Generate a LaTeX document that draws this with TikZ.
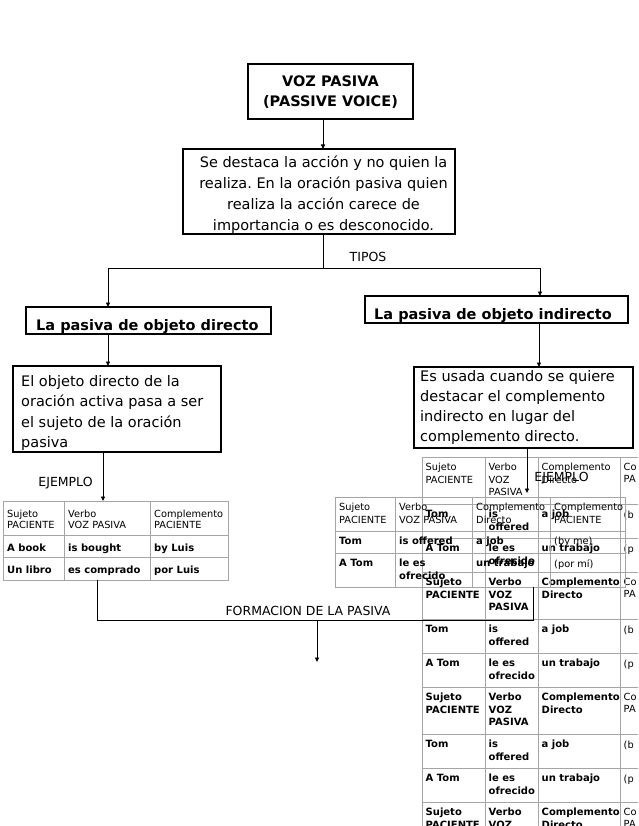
\documentclass[tikz,border=0pt]{standalone}
\usepackage{fontspec}
\setmainfont{DejaVu Sans}
\usetikzlibrary{arrows.meta}
\frenchspacing
\definecolor{tgray}{RGB}{165,165,165}
\newcounter{tcn}
\newcommand\tc[4]{\stepcounter{tcn}\node[#1,anchor=north west] (t\arabic{tcn}) at (#2,#3) {#4};}
\newcommand\mkbox[6]{\node[#2,minimum width={(#5)-(#3)},minimum height={(#6)-(#4)}] (#1) at ({((#3)+(#5))/2},{((#4)+(#6))/2}) {};}
\newcommand\Rblock[2]{%
 \tc{#2}{425.5}{#1+6}{Sujeto\\PACIENTE}
 \tc{#2}{488.5}{#1+6}{Verbo\\VOZ\\PASIVA}
 \tc{#2}{541.5}{#1+6}{Complemento\\Directo}
 \tc{rh}{623.5}{#1+6}{Co\\PA}
 \tc{rb}{425.5}{#1+53}{Tom}
 \tc{rb}{488.5}{#1+53}{is\\offered}
 \tc{rb}{541.5}{#1+53}{a job}
 \tc{rh}{623.5}{#1+54}{(b}
 \tc{rb}{425.5}{#1+87}{A Tom}
 \tc{rb}{488.5}{#1+87}{le es\\ofrecido}
 \tc{rb}{541.5}{#1+87}{un trabajo}
 \tc{rh}{623.5}{#1+88}{(p}
}
\tikzset{
 boxst/.style={draw=black, line width=1.2pt, inner sep=0, outer sep=0},
 tabst/.style={draw=tgray, line width=1pt, inner sep=0, outer sep=0},
 gridln/.style={draw=tgray, line width=0.8pt},
 con/.style={draw=black, line width=0.9pt},
 arr/.style={con, -{Triangle[length=4.5pt,width=4pt]}},
 txtbody/.style={font=\fontsize{14.5}{21}\selectfont, inner sep=0},
 txttitle/.style={font=\bfseries\fontsize{14.5}{20}\selectfont, inner sep=0},
 txtlbl/.style={font=\bfseries\fontsize{14.5}{18}\selectfont, inner sep=0},
 txtsmall/.style={font=\fontsize{12.5}{15}\selectfont, inner sep=0},
 lh/.style={font=\fontsize{9.8}{11.5}\selectfont, align=left, inner sep=0},
 lb/.style={font=\bfseries\fontsize{10}{11.5}\selectfont, align=left, inner sep=0},
 mh/.style={font=\fontsize{9.8}{13}\selectfont, align=left, inner sep=0},
 mb/.style={font=\bfseries\fontsize{10}{13}\selectfont, align=left, inner sep=0},
 rh/.style={font=\fontsize{9.8}{12.5}\selectfont, align=left, inner sep=0},
 rb/.style={font=\bfseries\fontsize{10}{12.5}\selectfont, align=left, inner sep=0},
}
\begin{document}
\begin{tikzpicture}[x=1pt,y=-1pt]
\useasboundingbox (0,0) rectangle (638,826);
% ---- boxes (multi-line texts: base = baseline of the last line)
\mkbox{title}{boxst}{248}{64}{413}{119}
\node[txttitle, align=center, anchor=base] (titletxt) at (330.5,107) {VOZ PASIVA\\(PASSIVE VOICE)};
\mkbox{desc}{boxst}{183}{149}{455}{234}
\node[txtbody, align=center, anchor=base] (desctxt) at (323.5,230.5) {Se destaca la acción y no quien la\\realiza. En la oración pasiva quien\\realiza la acción carece de\\importancia o es desconocido.};
\mkbox{ldir}{boxst}{26}{307}{271}{334}
\node[txtlbl, anchor=base west] (ldirtxt) at (36,330) {La pasiva de objeto directo};
\mkbox{lind}{boxst}{365}{296}{628}{323}
\node[txtlbl, anchor=base west] (lindtxt) at (374,319.5) {La pasiva de objeto indirecto};
\mkbox{objd}{boxst}{13}{366}{221}{452}
\node[txtbody, font=\fontsize{14.5}{20.5}\selectfont, align=left, anchor=base west] (objdtxt) at (21,447.5) {El objeto directo de la\\oración activa pasa a ser\\el sujeto de la oración\\pasiva};
\mkbox{usada}{boxst}{414}{367}{633}{448}
\node[txtbody, font=\fontsize{14.5}{20}\selectfont, align=left, anchor=base west] (usadatxt) at (420,441.5) {Es usada cuando se quiere\\destacar el complemento\\indirecto en lugar del\\complemento directo.};
% ---- right table (cut by the page edge)
\foreach \yy in {457,504,538,572,619,653,687,734,768,802} \draw[gridln] (422,\yy) -- (638,\yy);
\foreach \xx in {422,485,538,620} \draw[gridln] (\xx,457) -- (\xx,826);
\Rblock{457}{rh}
\Rblock{572}{rb}
\Rblock{687}{rb}
\tc{rb}{425.5}{808}{Sujeto\\PACIENTE}
\tc{rb}{488.5}{808}{Verbo\\VOZ}
\tc{rb}{541.5}{808}{Complemento\\Directo}
\tc{rh}{623.5}{808}{Co\\PA}
% ---- left table
\mkbox{tabL}{tabst}{3}{501}{228}{580}
\draw[gridln] (3,535) -- (228,535) (3,557) -- (228,557) (64,501) -- (64,580) (150,501) -- (150,580);
\tc{lh}{7}{509.5}{Sujeto\\PACIENTE}
\tc{lh}{68}{509.5}{Verbo\\VOZ PASIVA}
\tc{lh}{154}{509.5}{Complemento\\PACIENTE}
\tc{lb}{7}{543.5}{A book}
\tc{lb}{68}{543.5}{is bought}
\tc{lb}{154}{543.5}{by Luis}
\tc{lb}{7}{565.5}{Un libro}
\tc{lb}{68}{565.5}{es comprado}
\tc{lb}{154}{565.5}{por Luis}
% ---- middle table
\mkbox{tabM}{tabst}{335}{497}{625}{587}
\draw[gridln] (335,531) -- (625,531) (335,553) -- (625,553) (395,497) -- (395,587) (472,497) -- (472,587) (550,497) -- (550,587);
\tc{mh}{339}{503}{Sujeto\\PACIENTE}
\tc{mh}{399}{503}{Verbo\\VOZ PASIVA}
\tc{mh}{476}{503}{Complemento\\Directo}
\tc{mh}{554}{503}{Complemento\\PACIENTE}
\tc{mb}{339}{537}{Tom}
\tc{mb}{399}{537}{is offered}
\tc{mb}{476}{537}{a job}
\tc{mh}{554}{537}{(by me)}
\tc{mb}{339}{559}{A Tom}
\tc{mb}{399}{559}{le es\\ofrecido}
\tc{mb}{476}{559}{un trabajo}
\tc{mh}{554}{559}{(por mí)}
% ---- connectors
\coordinate (xa) at (323,0);
\draw[arr] (title.south -| xa) -- (desc.north -| xa);
\coordinate (jc) at (323,268);
\coordinate (jl) at (108,268);
\coordinate (jr) at (540,268);
\draw[con] (desc.south -| jc) -- (jc);
\draw[con] (jl) -- (jr);
\draw[arr] (jl) -- (ldir.north -| jl);
\draw[arr] (jr) -- (lind.north -| jr);
\node[txtsmall, anchor=base] (tipos) at (368,261.5) {TIPOS};
\coordinate (xl) at (108,0);
\draw[arr] (ldir.south -| xl) -- (objd.north -| xl);
\coordinate (xr) at (539,0);
\draw[arr] (lind.south -| xr) -- (usada.north -| xr);
\coordinate (xl2) at (103,0);
\draw[arr] (objd.south -| xl2) -- (tabL.north -| xl2);
\node[txtsmall, anchor=base] (ej1) at (65.5,486.5) {EJEMPLO};
\coordinate (xr2) at (527,0);
\draw[arr, shorten >=4pt] (usada.south -| xr2) -- (tabM.north -| xr2);
\node[txtsmall, anchor=base] (ej2) at (561.5,481) {EJEMPLO};
\coordinate (fl) at (97,620);
\coordinate (fr) at (533,620);
\draw[con] (tabL.south -| fl) -- (fl) -- (fr) -- (tabM.south -| fr);
\coordinate (fm) at (317,620);
\coordinate (fend) at (317,662);
\draw[arr] (fm) -- (fend);
\node[txtsmall, anchor=base] (form) at (308,615.5) {FORMACION DE LA PASIVA};
\end{tikzpicture}
\end{document}
